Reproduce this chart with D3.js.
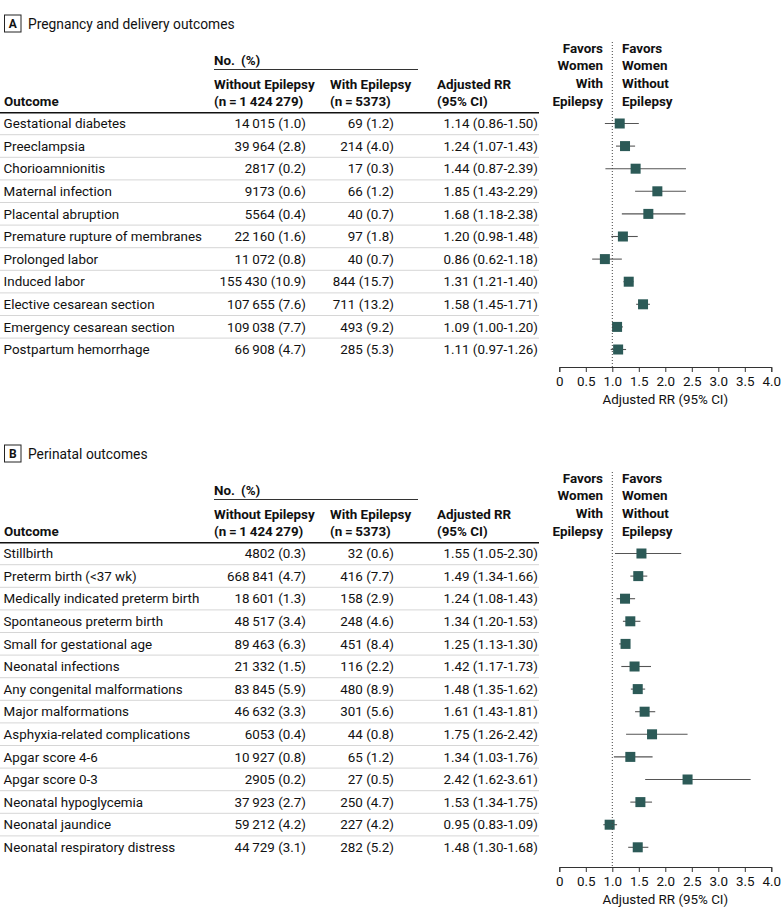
<!DOCTYPE html>
<html><head><meta charset="utf-8">
<script src="https://cdn.jsdelivr.net/npm/d3@7"></script>
<style>
html,body{margin:0;padding:0;background:#fff;}
svg text{font-family:Roboto,"Noto Sans",sans-serif;fill:#111;}
</style></head>
<body><svg id="c" width="783" height="918"></svg>
<script>
// ---------- Data ----------
const outcomesA = ["Gestational diabetes","Preeclampsia","Chorioamnionitis","Maternal infection","Placental abruption","Premature rupture of membranes","Prolonged labor","Induced labor","Elective cesarean section","Emergency cesarean section","Postpartum hemorrhage"];
const withoutNA = [14015,39964,2817,9173,5564,22160,11072,155430,107655,109038,66908];
const withoutPctA = [1.0,2.8,0.2,0.6,0.4,1.6,0.8,10.9,7.6,7.7,4.7];
const withNA = [69,214,17,66,40,97,40,844,711,493,285];
const withPctA = [1.2,4.0,0.3,1.2,0.7,1.8,0.7,15.7,13.2,9.2,5.3];
const ciLabelsA = ["1.14 (0.86-1.50)","1.24 (1.07-1.43)","1.44 (0.87-2.39)","1.85 (1.43-2.29)","1.68 (1.18-2.38)","1.20 (0.98-1.48)","0.86 (0.62-1.18)","1.31 (1.21-1.40)","1.58 (1.45-1.71)","1.09 (1.00-1.20)","1.11 (0.97-1.26)"];
const rrA = [1.14,1.24,1.44,1.85,1.68,1.20,0.86,1.31,1.58,1.09,1.11];
const loA = [0.86,1.07,0.87,1.43,1.18,0.98,0.62,1.21,1.45,1.00,0.97];
const hiA = [1.50,1.43,2.39,2.39,2.38,1.48,1.18,1.40,1.71,1.20,1.26];

const outcomesB = ["Stillbirth","Preterm birth (<37 wk)","Medically indicated preterm birth","Spontaneous preterm birth","Small for gestational age","Neonatal infections","Any congenital malformations","Major malformations","Asphyxia-related complications","Apgar score 4-6","Apgar score 0-3","Neonatal hypoglycemia","Neonatal jaundice","Neonatal respiratory distress"];
const withoutNB = [4802,668841,18601,48517,89463,21332,83845,46632,6053,10927,2905,37923,59212,44729];
const withoutPctB = [0.3,4.7,1.3,3.4,6.3,1.5,5.9,3.3,0.4,0.8,0.2,2.7,4.2,3.1];
const withNB = [32,416,158,248,451,116,480,301,44,65,27,250,227,282];
const withPctB = [0.6,7.7,2.9,4.6,8.4,2.2,8.9,5.6,0.8,1.2,0.5,4.7,4.2,5.2];
const ciLabelsB = ["1.55 (1.05-2.30)","1.49 (1.34-1.66)","1.24 (1.08-1.43)","1.34 (1.20-1.53)","1.25 (1.13-1.30)","1.42 (1.17-1.73)","1.48 (1.35-1.62)","1.61 (1.43-1.81)","1.75 (1.26-2.42)","1.34 (1.03-1.76)","2.42 (1.62-3.61)","1.53 (1.34-1.75)","0.95 (0.83-1.09)","1.48 (1.30-1.68)"];
const rrB = [1.55,1.49,1.24,1.34,1.25,1.42,1.48,1.61,1.75,1.34,2.42,1.53,0.95,1.48];
const loB = [1.05,1.34,1.08,1.20,1.13,1.17,1.35,1.43,1.26,1.03,1.62,1.34,0.83,1.30];
const hiB = [2.30,1.66,1.43,1.53,1.30,1.73,1.62,1.81,2.42,1.76,3.61,1.75,1.09,1.68];

const xTicks = [0,0.5,1.0,1.5,2.0,2.5,3.0,3.5,4.0];
const xTickLabels = ["0","0.5","1.0","1.5","2.0","2.5","3.0","3.5","4.0"];
const headerTotals = ["(n\u2009=\u20091\u2009424\u2009279)","(n\u2009=\u20095373)"];

// ---------- Helpers ----------
const TS = "\u2009";
function fmtCount(n){
  const s = String(n);
  if (n < 10000) return s;
  return s.replace(/\B(?=(\d{3})+(?!\d))/g, TS);
}
const f1 = d3.format(".1f");

const svg = d3.select("#c");
const FS = 13.4;
const xScale = d3.scaleLinear().domain([0,4]).range([559.3,771.3]);

function panel(oy, letter, title, outcomes, wN, wP, nN, nP, ciLabels, rr, lo, hi, axisY){
  const g = svg.append("g").attr("transform",`translate(0,${oy})`);
  // Panel label
  g.append("rect").attr("x",4.5).attr("y",15).attr("width",16.5).attr("height",17)
    .attr("fill","none").attr("stroke","#222").attr("stroke-width",1);
  g.append("text").attr("x",12.8).attr("y",28).attr("text-anchor","middle")
    .attr("font-size",12).attr("font-weight","bold").text(letter);
  g.append("text").attr("x",28).attr("y",28.5).attr("font-size",13.8).text(title);

  // headers
  const hb = (y)=> y + 4.7;
  const bold = (x,y,t,anchor)=> g.append("text").attr("x",x).attr("y",hb(y)).attr("font-size",FS)
    .attr("font-weight","bold").attr("text-anchor",anchor||"start").text(t);
  bold(214,60,"No.\u2009 (%)");
  g.append("line").attr("x1",214).attr("x2",418).attr("y1",69.5).attr("y2",69.5).attr("stroke","#333").attr("stroke-width",1);
  bold(214,84,"Without Epilepsy");
  bold(214,101,headerTotals[0]);
  bold(330,84,"With Epilepsy");
  bold(330,101,headerTotals[1]);
  bold(437,84,"Adjusted RR");
  bold(437,101,"(95% CI)");
  bold(4,101,"Outcome");

  // favors
  const favL = ["Favors","Women","With","Epilepsy"];
  const favR = ["Favors","Women","Without","Epilepsy"];
  const favY = [48,65.5,83,101];
  favL.forEach((t,i)=> bold(603,favY[i],t,"end"));
  favR.forEach((t,i)=> bold(622,favY[i],t));

  g.append("line").attr("x1",0).attr("x2",539).attr("y1",112.7).attr("y2",112.7)
    .attr("stroke","#111").attr("stroke-width",1.6);

  const n = outcomes.length;
  const yScale = d3.scalePoint().domain(d3.range(n)).range([123.5, 123.5 + 22.6*(n-1)]);
  const rows = g.selectAll("g.row").data(d3.range(n)).join("g").attr("class","row");
  rows.filter(i=> i < n-1).append("line").attr("x1",0).attr("x2",539)
    .attr("y1",i=> yScale(i)+11.2).attr("y2",i=> yScale(i)+11.2)
    .attr("stroke","#d6d6d6").attr("stroke-width",1);
  rows.append("text").attr("x",3.6).attr("y",i=>yScale(i)+4.7).attr("font-size",FS).text(i=>outcomes[i]);
  rows.append("text").attr("x",306).attr("y",i=>yScale(i)+4.7).attr("font-size",FS).attr("text-anchor","end")
    .text(i=> `${fmtCount(wN[i])} (${f1(wP[i])})`);
  rows.append("text").attr("x",394).attr("y",i=>yScale(i)+4.7).attr("font-size",FS).attr("text-anchor","end")
    .text(i=> `${fmtCount(nN[i])} (${f1(nP[i])})`);
  rows.append("text").attr("x",538).attr("y",i=>yScale(i)+4.7).attr("font-size",FS).attr("text-anchor","end")
    .text(i=> ciLabels[i]);

  // reference line
  g.append("line").attr("x1",xScale(1)).attr("x2",xScale(1)).attr("y1",42).attr("y2",axisY)
    .attr("stroke","#444").attr("stroke-width",1).attr("stroke-dasharray","1,2");

  // CI and squares
  rows.append("line").attr("x1",i=>xScale(lo[i])).attr("x2",i=>xScale(hi[i]))
    .attr("y1",i=>yScale(i)).attr("y2",i=>yScale(i)).attr("stroke","#555").attr("stroke-width",1.1);
  const sq = 10;
  rows.append("rect").attr("x",i=>xScale(rr[i])-sq/2).attr("y",i=>yScale(i)-sq/2)
    .attr("width",sq).attr("height",sq).attr("fill","#2c5a57");

  // axis
  const ax = g.append("g").attr("transform",`translate(0,${axisY})`)
    .call(d3.axisBottom(xScale).tickValues(xTicks).tickFormat((d,i)=>xTickLabels[i]).tickSize(5).tickPadding(4));
  ax.select(".domain").attr("stroke","#333");
  ax.selectAll(".tick line").attr("stroke","#333");
  ax.selectAll(".tick text").attr("font-size",FS).attr("font-family","Roboto,sans-serif").attr("fill","#111");
  g.append("text").attr("x",xScale(2)).attr("y",axisY+37).attr("text-anchor","middle")
    .attr("font-size",FS).text("Adjusted RR (95% CI)");
}

panel(0,"A","Pregnancy and delivery outcomes",outcomesA,withoutNA,withoutPctA,withNA,withPctA,ciLabelsA,rrA,loA,hiA,367);
panel(430,"B","Perinatal outcomes",outcomesB,withoutNB,withoutPctB,withNB,withPctB,ciLabelsB,rrB,loB,hiB,437);
</script></body></html>
